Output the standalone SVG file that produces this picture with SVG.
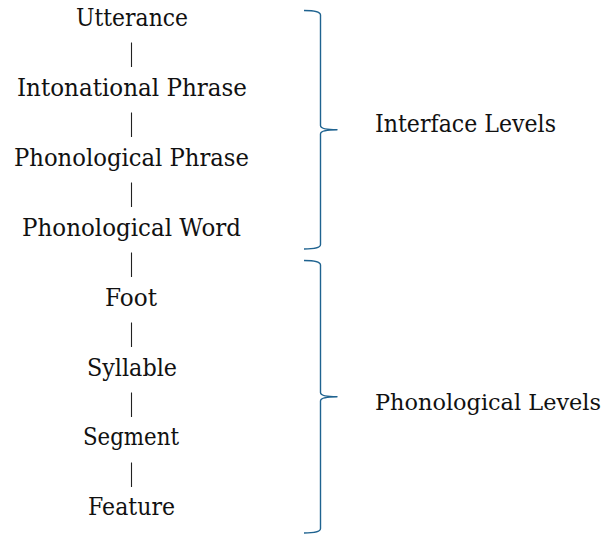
<svg xmlns="http://www.w3.org/2000/svg" width="605" height="535" viewBox="0 0 605 535">
<style>
.lv{text-anchor:middle;}
.conn line{stroke:#222;stroke-width:1.1;}
.brace{fill:none;stroke:#1f6390;stroke-width:1.4;stroke-linejoin:round;}
</style>
<rect width="605" height="535" fill="#fff"/>
<g id="connectors" class="conn">
<line x1="131.5" y1="42.5" x2="131.5" y2="67"/>
<line x1="131.5" y1="112.5" x2="131.5" y2="137"/>
<line x1="131.5" y1="182.5" x2="131.5" y2="207"/>
<line x1="131.5" y1="252.5" x2="131.5" y2="277"/>
<line x1="131.5" y1="322.5" x2="131.5" y2="347"/>
<line x1="131.5" y1="392.5" x2="131.5" y2="417"/>
<line x1="131.5" y1="462.5" x2="131.5" y2="487"/>
</g>
<g font-family="DejaVu Serif, Liberation Serif, serif" font-size="24.5" fill="#111">
<g id="utterance"><text class="lv" x="132" y="26" textLength="112" lengthAdjust="spacingAndGlyphs">Utterance</text></g>
<g id="intonational-phrase"><text class="lv" x="132" y="95.9" textLength="230" lengthAdjust="spacingAndGlyphs">Intonational Phrase</text></g>
<g id="phonological-phrase"><text class="lv" x="131.5" y="165.8" textLength="235" lengthAdjust="spacingAndGlyphs">Phonological Phrase</text></g>
<g id="phonological-word"><text class="lv" x="131.5" y="235.7" textLength="219" lengthAdjust="spacingAndGlyphs">Phonological Word</text></g>
<g id="foot"><text class="lv" x="131" y="305.6" textLength="52" lengthAdjust="spacingAndGlyphs">Foot</text></g>
<g id="syllable"><text class="lv" x="132" y="375.5" textLength="90" lengthAdjust="spacingAndGlyphs">Syllable</text></g>
<g id="segment"><text class="lv" x="131" y="445.4" textLength="96" lengthAdjust="spacingAndGlyphs">Segment</text></g>
<g id="feature"><text class="lv" x="131.5" y="515.3" textLength="87" lengthAdjust="spacingAndGlyphs">Feature</text></g>
<g id="interface-levels">
<path class="brace" d="M304,10.5 Q320.5,10.5 320.5,15 L320.5,125.5 Q320.5,129.8 337,129.8 Q320.5,129.8 320.5,134 L320.5,244.5 Q320.5,249 304,249"/>
<text x="375" y="132" textLength="181" lengthAdjust="spacingAndGlyphs">Interface Levels</text>
</g>
<g id="phonological-levels">
<path class="brace" d="M304,260.5 Q320.5,260.5 320.5,265 L320.5,392.5 Q320.5,396.8 337,396.8 Q320.5,396.8 320.5,401 L320.5,528.5 Q320.5,533 304,533"/>
<text x="375" y="410" font-size="23" textLength="226" lengthAdjust="spacingAndGlyphs">Phonological Levels</text>
</g>
</g>
</svg>
